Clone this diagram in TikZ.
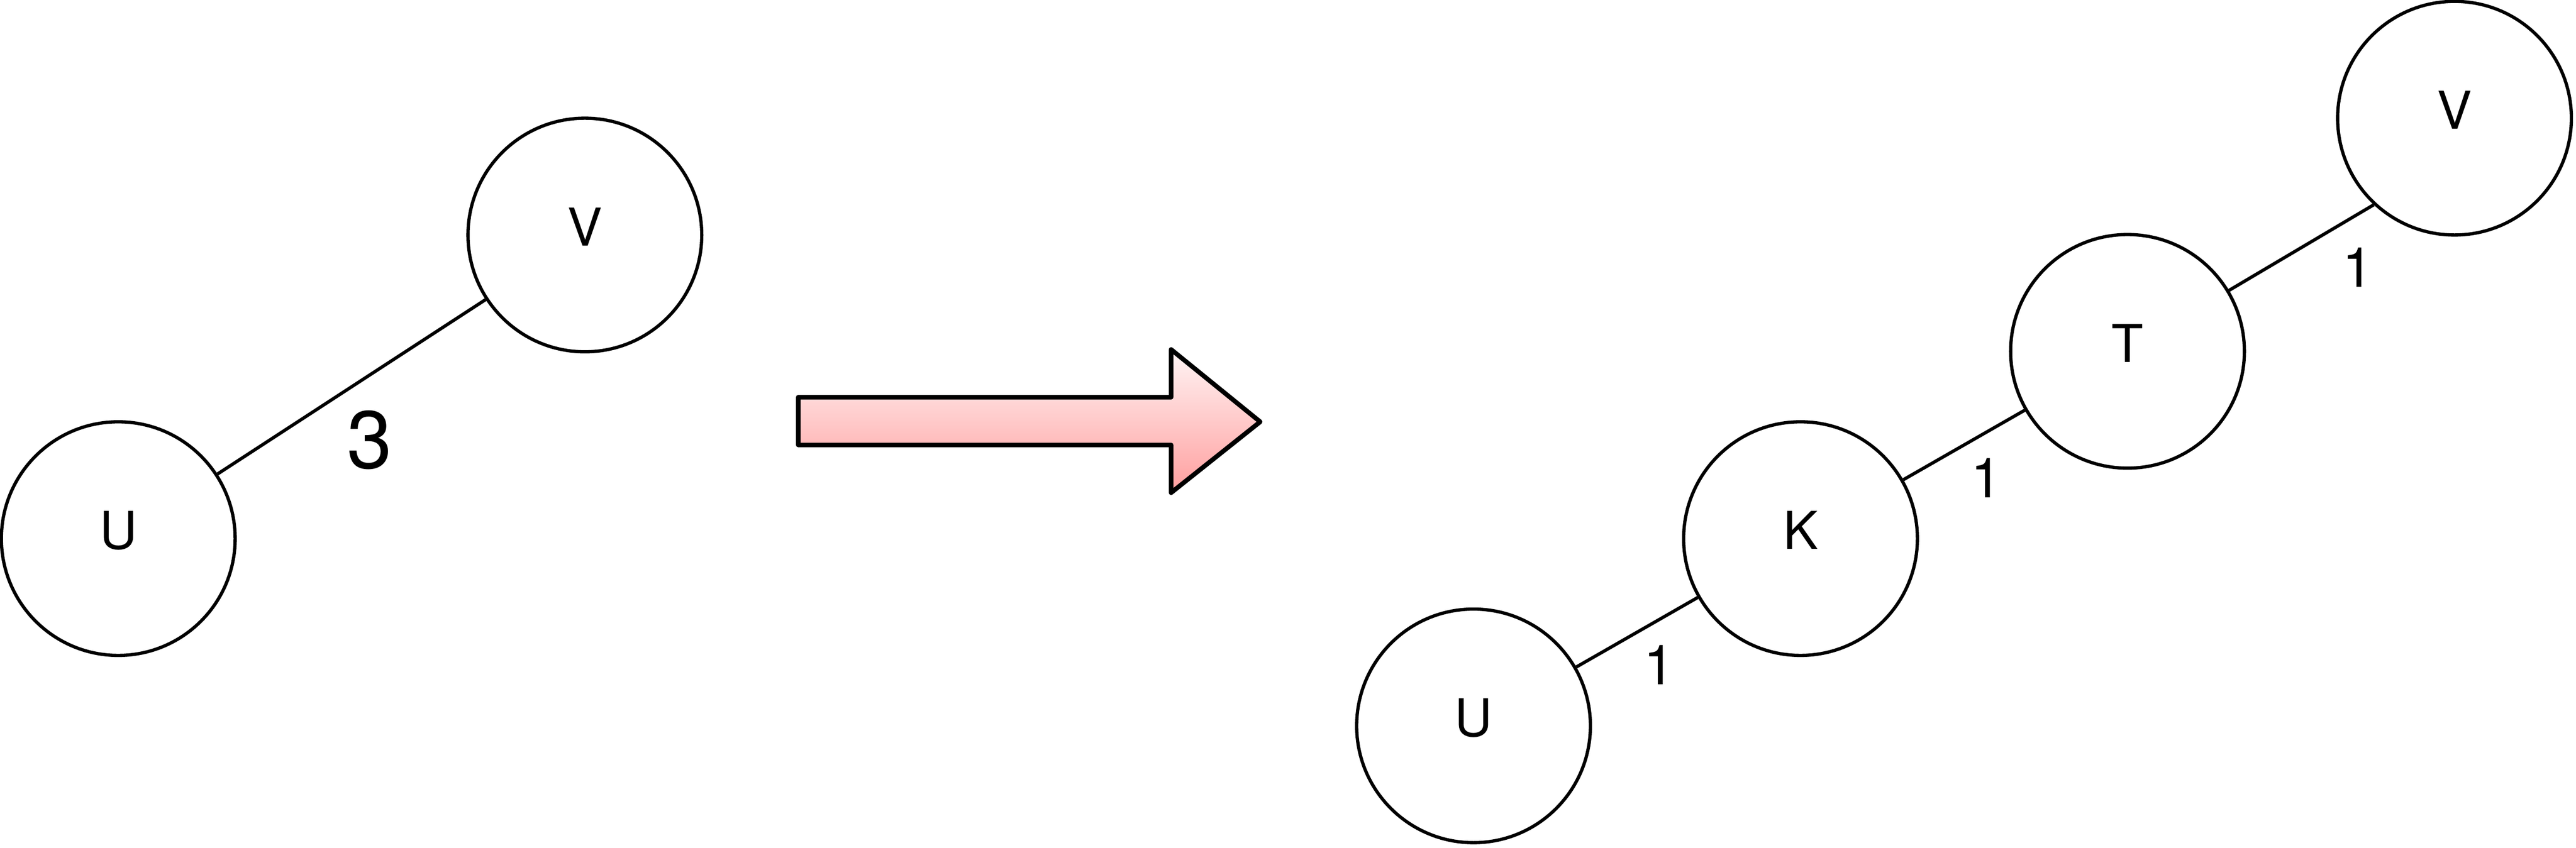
\documentclass[tikz,border=0pt]{standalone}
\usepackage{fontspec}
\setmainfont{TeX Gyre Heros}
\tikzset{
  vertex/.style={draw, circle, line width=1pt, minimum size=2.52cm, inner sep=0pt,
    text height=0.41cm, text depth=0.18cm, font=\fontsize{16}{18}\selectfont},
  weight/.style={inner sep=0pt, font=\fontsize{17}{19}\selectfont},
  link/.style={line width=1pt}
}
\begin{document}
\begin{tikzpicture}
\useasboundingbox (0,0) rectangle (27.77,9.145);

% before
\node[vertex] (lU) at (1.275,3.335) {U};
\node[vertex] (lV) at (6.305,6.61)  {V};
\draw[link] (lU) -- (lV);
\node[weight, font=\fontsize{25}{28}\selectfont] (w3) at (3.985,4.40) {3};

% big arrow
\shade[top color=red!4, bottom color=red!38, draw=black, line width=1.4pt, line join=round]
  (8.605,4.86) -- (12.625,4.86) -- (12.625,5.375) -- (13.585,4.595)
  -- (12.625,3.83) -- (12.625,4.345) -- (8.605,4.345) -- cycle;

% after
\node[vertex] (rU) at (15.885,1.315) {U};
\node[vertex] (rK) at (19.41,3.335)  {K};
\node[vertex] (rT) at (22.935,5.355) {T};
\node[vertex] (rV) at (26.46,7.87)   {V};
\foreach \a/\b in {rU/rK, rK/rT}
  \draw[link] (\a) -- (\b);
\draw[link] (rT.31) -- (rV.227);
\node[weight] (w1) at (17.885,1.975) {1};
\node[weight] (w2) at (21.41,3.99)   {1};
\node[weight] (w4) at (25.415,6.26)  {1};
\end{tikzpicture}
\end{document}
